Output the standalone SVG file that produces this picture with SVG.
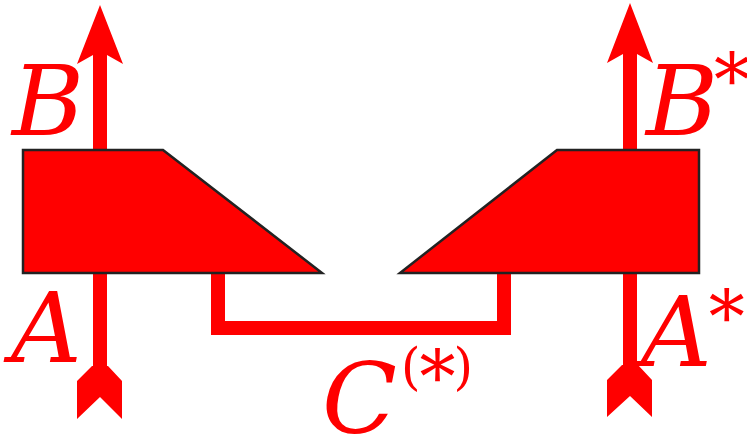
<svg xmlns="http://www.w3.org/2000/svg" width="747" height="442" viewBox="0 0 747 442">
<style>
.shape{fill:#ff0000;stroke:#222;stroke-width:2.5;stroke-linejoin:miter}
.arr{fill:#ff0000}
.wire{fill:none;stroke:#ff0000;stroke-width:14;stroke-linejoin:miter}
.star{font-style:normal;font-size:72px}
.par{font-style:normal;font-size:50px}
</style>
<rect width="747" height="442" fill="#fff"/>
<g id="connectors">
  <g id="arrow-left">
    <rect class="arr" x="93" y="50" width="14" height="325"/>
    <polygon class="arr" points="100,5 123,64 107,55 93,55 77,64"/>
    <polygon class="arr" points="92,366 108,366 122,381 122,419 100,397 77,419 77,381"/>
  </g>
  <g id="arrow-right">
    <rect class="arr" x="623" y="50" width="14" height="325"/>
    <polygon class="arr" points="630,3 653,63 637,54 623,54 607,63"/>
    <polygon class="arr" points="622,365 638,365 652,380 652,417 630,396 607,417 607,380"/>
  </g>
  <polyline id="wire-C" class="wire" points="218,272 218,328 504,328 504,272"/>
</g>
<g id="node-left">
  <polygon class="shape" points="23,150 163,150 322,273 23,273"/>
</g>
<g id="node-right">
  <polygon class="shape" points="557,150 699,150 699,273 400,273"/>
</g>
<g id="labels" font-family="'DejaVu Serif', serif" font-style="italic" fill="#ff0000" font-size="98">
  <text x="12" y="135">B</text>
  <text x="11" y="362">A</text>
  <text x="646" y="135">B<tspan class="star" dx="-4" dy="-29">*</tspan></text>
  <text x="641" y="366">A<tspan class="star" dx="-3" dy="-23">*</tspan></text>
  <text x="322" y="433">C<tspan class="par" dx="4" dy="-49">(</tspan><tspan class="star" dx="-1" dy="19">*</tspan><tspan class="par" dx="-2" dy="-19">)</tspan></text>
</g>
</svg>
